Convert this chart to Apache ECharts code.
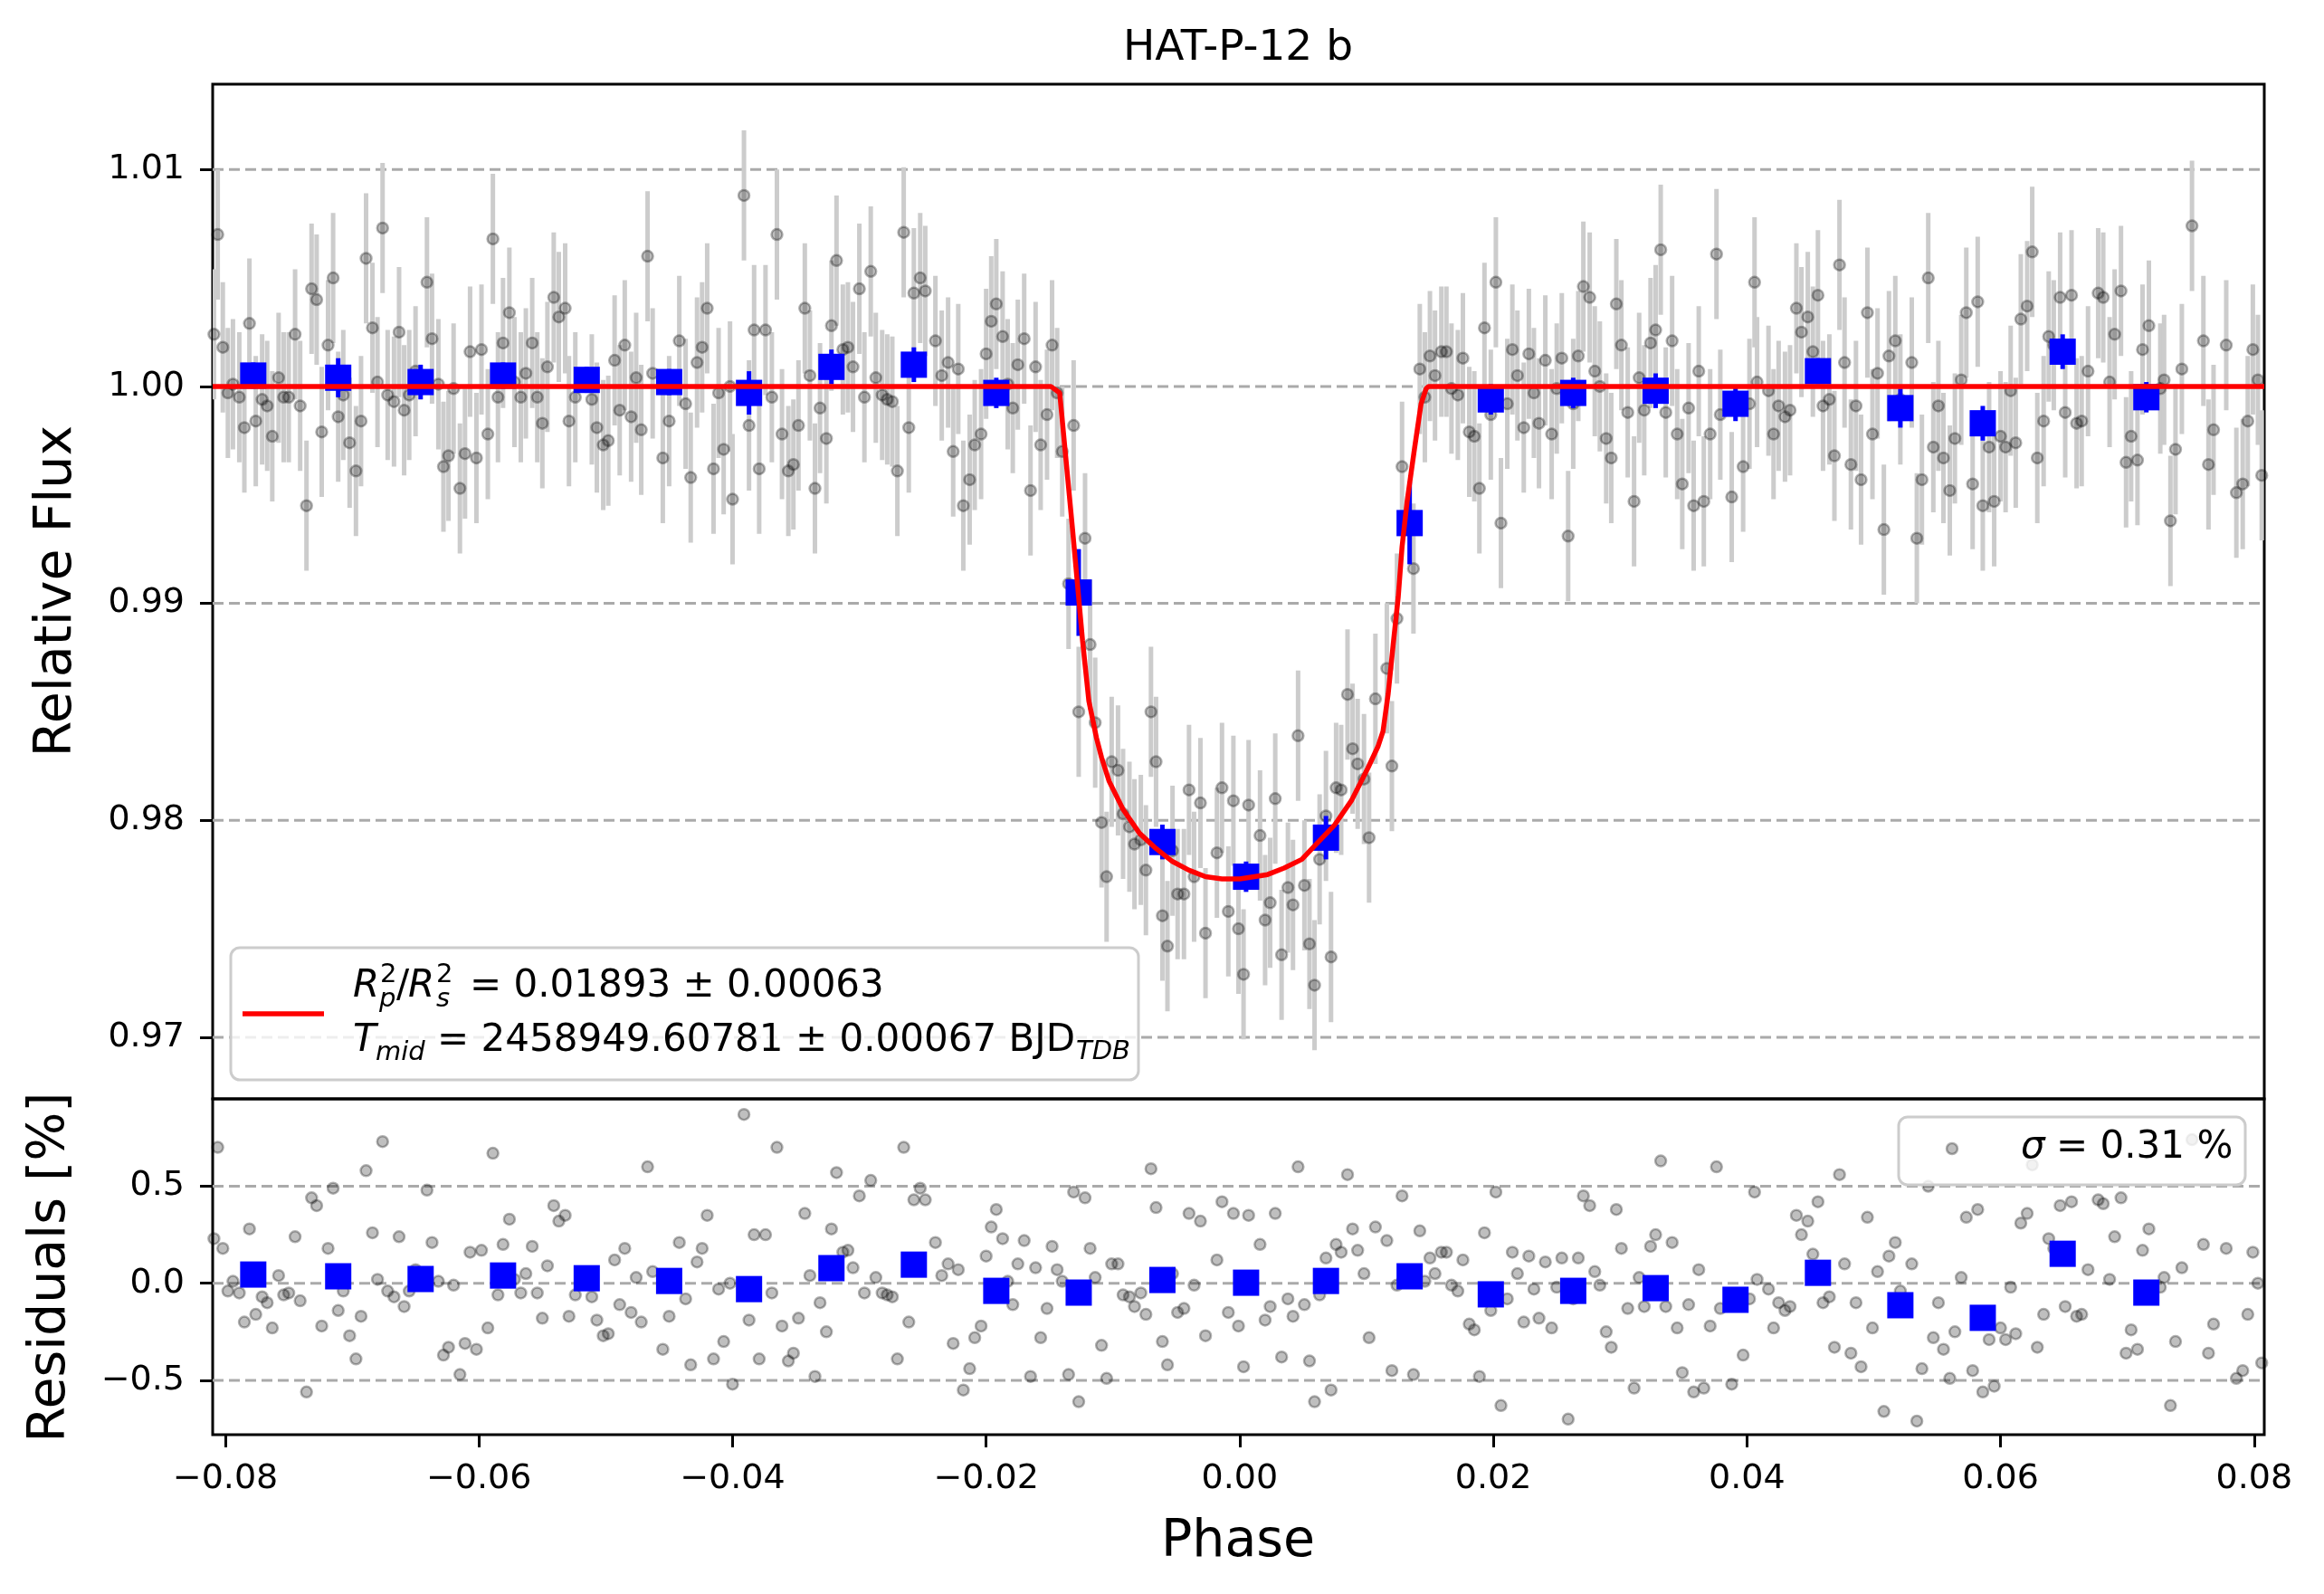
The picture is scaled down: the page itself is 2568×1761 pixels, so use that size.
<!DOCTYPE html>
<html>
<head>
<meta charset="utf-8">
<script src="https://cdn.jsdelivr.net/npm/echarts@6/dist/echarts.min.js"></script>
<style>
  html, body { margin: 0; padding: 0; background: #fff; }
  #main { width: 2568px; height: 1761px; }
</style>
</head>
<body>
<div id="main"></div>
<script>
// ---- data ----
var xMin = -0.081, xMax = 0.0808;
var fluxMin = 0.96716, fluxMax = 1.01393;
var resMin = -0.78, resMax = 0.95;
var xTicks = [-0.08, -0.06, -0.04, -0.02, 0, 0.02, 0.04, 0.06, 0.08];
var fluxTicks = [0.97, 0.98, 0.99, 1.00, 1.01];
var resTicks = [-0.5, 0, 0.5];
var fluxErr = 0.003;

// unbinned points, in four stretches of phase
var phaseA = [
  -0.0809,-0.0806,-0.0802,-0.0798,-0.0794,-0.0789,-0.0785,-0.0781,-0.0776,-0.0771,
  -0.0767,-0.0763,-0.0758,-0.0754,-0.0750,-0.0745,-0.0741,-0.0736,-0.0732,-0.0728,
  -0.0724,-0.0719,-0.0715,-0.0711,-0.0707,-0.0702,-0.0697,-0.0693,-0.0689,-0.0684,
  -0.0680,-0.0676,-0.0672,-0.0667,-0.0663,-0.0659,-0.0655,-0.0650,-0.0641,-0.0637,
  -0.0632,-0.0628,-0.0624,-0.0620,-0.0615,-0.0611,-0.0607,-0.0602,-0.0598,-0.0593,
  -0.0589,-0.0585,-0.0581,-0.0576,-0.0572,-0.0567,-0.0563,-0.0558,-0.0554,-0.0550,
  -0.0546,-0.0541,-0.0537,-0.0532,-0.0529,-0.0524,-0.0511,-0.0507,-0.0502,-0.0498,
  -0.0493,-0.0489,-0.0485,-0.0480,-0.0476,-0.0472,-0.0467,-0.0463,-0.0455,-0.0450,
  -0.0442,-0.0437,-0.0433,-0.0428,-0.0424,-0.0420,-0.0415,-0.0411,-0.0407,-0.0402,
  -0.0400
];
var fluxA = [
  1.0024,1.0070,1.0018,0.9997,1.0001,0.9995,0.9981,1.0029,0.9984,0.9994,
  0.9991,0.9977,1.0004,0.9995,0.9995,1.0024,0.9991,0.9945,1.0045,1.0040,
  0.9979,1.0019,1.0050,0.9986,0.9996,0.9974,0.9961,0.9984,1.0059,1.0027,
  1.0002,1.0073,0.9996,0.9993,1.0025,0.9989,0.9996,1.0007,1.0048,1.0022,
  1.0001,0.9963,0.9968,0.9999,0.9953,0.9969,1.0016,0.9967,1.0017,0.9978,
  1.0068,0.9995,1.0020,1.0034,1.0002,0.9995,1.0006,1.0020,0.9995,0.9983,
  1.0009,1.0041,1.0032,1.0036,0.9984,0.9995,0.9994,0.9981,0.9973,0.9975,
  1.0012,0.9989,1.0019,0.9986,1.0004,0.9980,1.0060,1.0006,0.9967,0.9984,
  1.0021,0.9992,0.9958,1.0011,1.0018,1.0036,0.9962,0.9997,0.9971,1.0000,
  0.9948
];
var residA = [
  0.23,0.70,0.18,-0.04,0.01,-0.05,-0.20,0.28,-0.16,-0.07,
  -0.10,-0.23,0.04,-0.06,-0.05,0.24,-0.09,-0.56,0.44,0.40,
  -0.22,0.18,0.49,-0.14,-0.04,-0.27,-0.39,-0.17,0.58,0.26,
  0.02,0.73,-0.04,-0.07,0.24,-0.12,-0.04,0.07,0.48,0.21,
  0.01,-0.37,-0.33,-0.01,-0.47,-0.31,0.16,-0.34,0.17,-0.23,
  0.67,-0.06,0.20,0.33,0.02,-0.05,0.05,0.19,-0.05,-0.18,
  0.09,0.40,0.32,0.35,-0.17,-0.06,-0.07,-0.19,-0.27,-0.26,
  0.12,-0.11,0.18,-0.15,0.03,-0.20,0.60,0.06,-0.34,-0.17,
  0.21,-0.08,-0.42,0.11,0.18,0.35,-0.39,-0.03,-0.30,0.00,
  -0.52
];

var phaseB = [
  -0.0391,-0.0387,-0.0383,-0.0379,-0.0374,-0.0369,-0.0365,-0.0361,-0.0356,-0.0352,
  -0.0348,-0.0343,-0.0339,-0.0335,-0.0331,-0.0326,-0.0322,-0.0318,-0.0313,-0.0309,
  -0.0305,-0.0300,-0.0296,-0.0291,-0.0287,-0.0282,-0.0278,-0.0274,-0.0270,-0.0265,
  -0.0261,-0.0257,-0.0252,-0.0248,-0.0240,-0.0235,-0.0230,-0.0226,-0.0222,-0.0218,
  -0.0213,-0.0209,-0.0204,-0.0200,-0.0196,-0.0192,-0.0187,-0.0183,-0.0179,-0.0175,
  -0.0170,-0.0165,-0.0161,-0.0157,-0.0152,-0.0148,-0.0144,-0.0140,-0.0135,-0.0131,
  -0.0127,-0.0122,-0.0118,-0.0114,-0.0109,-0.0105,-0.0101,-0.0096,-0.0092,-0.0087,
  -0.0083,-0.0078,-0.0074,-0.0070,-0.0066,-0.0061,-0.0057,-0.0053,-0.0049,-0.0044,
  -0.0040,-0.0036,-0.0031,-0.0027,-0.0018,-0.0014,-0.0009,-0.0005,-0.0001,0.0003
];
var fluxB = [
  1.0088,0.9982,1.0026,0.9962,1.0026,0.9995,1.0070,0.9978,0.9961,0.9964,
  0.9982,1.0036,1.0005,0.9953,0.9990,0.9976,1.0028,1.0058,1.0017,1.0018,
  1.0009,1.0045,0.9995,1.0053,1.0004,0.9996,0.9994,0.9993,0.9961,1.0071,
  0.9981,1.0043,1.0050,1.0044,1.0021,1.0005,1.0011,0.9970,1.0008,0.9945,
  0.9957,0.9973,0.9978,1.0015,1.0030,1.0038,1.0023,1.0001,0.9990,1.0010,
  1.0022,0.9952,1.0009,0.9973,0.9987,1.0019,0.9997,0.9970,0.9909,0.9982,
  0.9850,0.9930,0.9881,0.9845,0.9799,0.9774,0.9827,0.9823,0.9803,0.9797,
  0.9789,0.9791,0.9777,0.9850,0.9827,0.9756,0.9742,0.9786,0.9766,0.9766,
  0.9814,0.9774,0.9808,0.9748,0.9785,0.9815,0.9758,0.9809,0.9750,0.9729
];
var residB = [
  0.87,-0.19,0.25,-0.39,0.25,-0.05,0.70,-0.22,-0.40,-0.36,
  -0.18,0.36,0.04,-0.48,-0.10,-0.25,0.28,0.57,0.16,0.17,
  0.08,0.45,-0.05,0.53,0.03,-0.05,-0.06,-0.07,-0.39,0.70,
  -0.20,0.43,0.49,0.43,0.21,0.04,0.10,-0.31,0.07,-0.55,
  -0.44,-0.28,-0.22,0.14,0.29,0.38,0.23,0.01,-0.11,0.10,
  0.22,-0.48,0.08,-0.28,-0.13,0.19,0.07,0.01,-0.47,0.47,
  -0.61,0.44,0.18,0.03,-0.32,-0.49,0.10,0.10,-0.06,-0.07,
  -0.12,-0.05,-0.16,0.59,0.39,-0.30,-0.42,0.05,-0.15,-0.13,
  0.36,-0.01,0.32,-0.27,0.12,0.42,-0.15,0.36,-0.22,-0.43
];

var phaseC = [
  0.0007,0.0016,0.0020,0.0024,0.0028,0.0033,0.0038,0.0042,0.0046,0.0051,
  0.0055,0.0059,0.0063,0.0068,0.0072,0.0076,0.0080,0.0085,0.0089,0.0093,
  0.0098,0.0102,0.0107,0.0116,0.0120,0.0124,0.0128,0.0137,0.0142,0.0146,
  0.0150,0.0154,0.0159,0.0163,0.0167,0.0172,0.0176,0.0181,0.0185,0.0189,
  0.0193,0.0198,0.0202,0.0206,0.0211,0.0215,0.0219,0.0224,0.0228,0.0232,
  0.0236,0.0241,0.0246,0.0250,0.0254,0.0259,0.0263,0.0267,0.0271,0.0276,
  0.0280,0.0284,0.0289,0.0293,0.0297,0.0301,0.0306,0.0311,0.0315,0.0319,
  0.0324,0.0328,0.0332,0.0336,0.0341,0.0345,0.0349,0.0354,0.0358,0.0362,
  0.0366,0.0371,0.0376,0.0379,0.0388,0.0397,0.0402,0.0406
];
var fluxC = [
  0.9807,0.9793,0.9754,0.9762,0.9810,0.9738,0.9769,0.9761,0.9839,0.9770,
  0.9743,0.9724,0.9782,0.9802,0.9737,0.9815,0.9814,0.9858,0.9833,0.9826,
  0.9819,0.9792,0.9856,0.9870,0.9825,0.9893,0.9963,0.9916,1.0008,0.9995,
  1.0014,1.0005,1.0016,1.0016,0.9999,0.9996,1.0013,0.9979,0.9977,0.9953,
  1.0027,0.9987,1.0048,0.9937,0.9992,1.0017,1.0005,0.9981,1.0015,0.9997,
  0.9983,1.0012,0.9978,0.9999,1.0013,0.9931,0.9992,1.0014,1.0046,1.0041,
  1.0007,1.0000,0.9976,0.9967,1.0038,1.0019,0.9988,0.9947,1.0004,0.9989,
  1.0020,1.0026,1.0063,0.9988,1.0021,0.9978,0.9955,0.9990,0.9945,1.0007,
  0.9947,0.9978,1.0061,0.9987,0.9949,0.9963,0.9992,1.0048
];
var residC = [
  0.35,0.20,-0.19,-0.12,0.36,-0.38,-0.08,-0.17,0.60,-0.11,
  -0.40,-0.61,-0.06,0.13,-0.55,0.20,0.16,0.56,0.28,0.17,
  0.05,-0.28,0.29,0.22,-0.45,-0.01,0.45,-0.47,0.27,0.01,
  0.13,0.05,0.16,0.16,-0.01,-0.04,0.12,-0.21,-0.24,-0.48,
  0.26,-0.14,0.47,-0.63,-0.08,0.16,0.05,-0.20,0.14,-0.03,
  -0.18,0.11,-0.23,-0.02,0.13,-0.70,-0.08,0.13,0.45,0.40,
  0.06,-0.01,-0.25,-0.33,0.38,0.18,-0.13,-0.54,0.03,-0.12,
  0.19,0.25,0.63,-0.12,0.21,-0.23,-0.46,-0.11,-0.56,0.07,
  -0.54,-0.22,0.60,-0.13,-0.52,-0.37,-0.08,0.47
];

var phaseD = [
  0.0408,0.0417,0.0421,0.0425,0.0430,0.0434,0.0439,0.0443,0.0448,0.0452,
  0.0456,0.0460,0.0465,0.0469,0.0473,0.0477,0.0482,0.0486,0.0490,0.0495,
  0.0499,0.0503,0.0508,0.0512,0.0517,0.0521,0.0530,0.0534,0.0538,0.0543,
  0.0547,0.0551,0.0555,0.0560,0.0564,0.0569,0.0573,0.0578,0.0582,0.0586,
  0.0591,0.0595,0.0600,0.0604,0.0608,0.0612,0.0616,0.0621,0.0625,0.0629,
  0.0634,0.0638,0.0642,0.0647,0.0651,0.0656,0.0660,0.0664,0.0669,0.0677,
  0.0681,0.0686,0.0690,0.0695,0.0699,0.0703,0.0708,0.0712,0.0717,0.0726,
  0.0729,0.0734,0.0738,0.0743,0.0751,0.0760,0.0764,0.0768,0.0778,0.0786,
  0.0791,0.0795,0.0799,0.0803,0.0806
];
var fluxD = [
  1.0002,0.9998,0.9978,0.9991,0.9986,0.9989,1.0036,1.0025,1.0032,1.0016,
  1.0042,0.9991,0.9994,0.9968,1.0056,1.0011,0.9964,0.9991,0.9957,1.0034,
  0.9978,1.0006,0.9934,1.0014,1.0021,0.9994,1.0011,0.9930,0.9957,1.0050,
  0.9972,0.9991,0.9967,0.9952,0.9976,1.0003,1.0034,0.9955,1.0039,0.9945,
  0.9972,0.9947,0.9977,0.9972,0.9998,0.9974,1.0031,1.0037,1.0062,0.9967,
  0.9984,1.0023,1.0019,1.0041,0.9988,1.0042,0.9983,0.9984,1.0007,1.0043,
  1.0041,1.0002,1.0024,1.0044,0.9965,0.9977,0.9966,1.0017,1.0028,0.9999,
  1.0003,0.9938,0.9971,1.0008,1.0074,1.0021,0.9964,0.9980,1.0019,0.9951,
  0.9955,0.9984,1.0017,1.0003,0.9959
];
var residD = [
  0.02,-0.03,-0.23,-0.10,-0.14,-0.12,0.35,0.25,0.32,0.15,
  0.42,-0.10,-0.07,-0.33,0.56,0.10,-0.36,-0.10,-0.43,0.34,
  -0.23,0.06,-0.66,0.14,0.21,-0.04,0.10,-0.71,-0.44,0.50,
  -0.28,-0.10,-0.34,-0.49,-0.25,0.03,0.34,-0.45,0.38,-0.56,
  -0.29,-0.53,-0.23,-0.29,-0.02,-0.26,0.31,0.36,0.61,-0.33,
  -0.16,0.23,0.18,0.40,-0.12,0.42,-0.17,-0.16,0.07,0.43,
  0.41,0.02,0.24,0.44,-0.36,-0.24,-0.34,0.17,0.28,-0.02,
  0.03,-0.63,-0.30,0.08,0.74,0.20,-0.36,-0.21,0.18,-0.49,
  -0.45,-0.16,0.16,0.00,-0.41
];

// binned points (blue squares)
var binPhase = [-0.0778,-0.0711,-0.0646,-0.0581,-0.0515,-0.0450,-0.0387,-0.0322,-0.0257,-0.0192,-0.0127,-0.0061,
                0.0005,0.0068,0.0134,0.0198,0.0263,0.0328,0.0391,0.0456,0.0521,0.0586,0.0649,0.0715];
var binFlux  = [1.0005,1.0004,1.0002,1.0005,1.0003,1.0002,0.9997,1.0009,1.0010,0.9997,0.9905,0.9790,
                0.9774,0.9792,0.9937,0.9994,0.9997,0.9998,0.9992,1.0007,0.9990,0.9983,1.0016,0.9995];
var binErr   = [0.0006,0.0009,0.0008,0.0006,0.0006,0.0006,0.0010,0.0008,0.0008,0.0007,0.0020,0.0008,
                0.0007,0.0010,0.0019,0.0007,0.0007,0.0008,0.0008,0.0006,0.0009,0.0008,0.0008,0.0007];
var binResid = [0.045,0.036,0.022,0.040,0.026,0.012,-0.030,0.078,0.096,-0.039,-0.048,0.017,
                0.003,0.012,0.036,-0.057,-0.039,-0.025,-0.085,0.054,-0.113,-0.178,0.152,-0.048];

// transit model (red line)
var modelPhase = [-0.081,-0.0149,-0.0142,-0.0137,-0.0132,-0.0128,-0.0124,-0.0119,-0.0113,-0.0109,-0.0103,
                  -0.0092,-0.0079,-0.0066,-0.0053,-0.0040,-0.0027,-0.0014,0.0000,0.0022,0.0035,0.0049,
                  0.0062,0.0075,0.0088,0.0101,0.0109,0.0113,0.0117,0.0121,0.0125,0.0128,0.0132,0.0138,
                  0.0143,0.0147,0.0149,0.0808];
var modelFlux  = [1.0,1.0,0.9997,0.9966,0.9935,0.9909,0.9883,0.9855,0.9838,0.9829,0.9818,
                  0.9805,0.9794,0.9787,0.9781,0.9777,0.9774,0.9773,0.9773,0.9775,0.9778,0.9782,
                  0.9790,0.9798,0.9809,0.9824,0.9834,0.9841,0.9858,0.9881,0.9903,0.9926,0.9947,0.9972,
                  0.9992,0.9999,1.0,1.0];

var phase = phaseA.concat(phaseB, phaseC, phaseD);
var flux = fluxA.concat(fluxB, fluxC, fluxD);
var resid = residA.concat(residB, residC, residD);

// ---- chart ----
var FONT = "'DejaVu Sans', sans-serif";
var myChart = echarts.init(document.getElementById("main"));

var n = Math.min(phase.length, flux.length, resid.length);
var lcPts = [], lcBars = [], resPts = [];
for (var i = 0; i < n; i++) {
  lcPts.push([phase[i], flux[i]]);
  lcBars.push([phase[i], flux[i] - fluxErr, flux[i] + fluxErr]);
  resPts.push([phase[i], resid[i]]);
}
var binPts = [], binBars = [], binResPts = [];
for (var j = 0; j < binPhase.length; j++) {
  binPts.push([binPhase[j], binFlux[j]]);
  binBars.push([binPhase[j], binFlux[j] - binErr[j], binFlux[j] + binErr[j]]);
  binResPts.push([binPhase[j], binResid[j]]);
}
var modelPts = modelPhase.map(function (p, k) { return [p, modelFlux[k]]; });

function minus(s) { return s.replace("-", "\u2212"); }

function vBar(color, width) {
  return function (params, api) {
    var a = api.coord([api.value(0), api.value(1)]);
    var b = api.coord([api.value(0), api.value(2)]);
    return { type: "line", shape: { x1: a[0], y1: a[1], x2: b[0], y2: b[1] },
             style: { stroke: color, lineWidth: width } };
  };
}
function hGrid(params, api) {
  var a = api.coord([xMin, api.value(1)]);
  var b = api.coord([xMax, api.value(1)]);
  return { type: "line", shape: { x1: a[0], y1: a[1], x2: b[0], y2: b[1] },
           style: { stroke: "#aaaaaa", lineWidth: 3, lineDash: [12, 6] } };
}

var grayItem = { color: "rgba(0,0,0,0.25)", borderColor: "rgba(0,0,0,0.3)", borderWidth: 2.5, opacity: 1 };
var blueItem = { color: "#0000ff", opacity: 1 };
var tickStyle = { show: true, length: 14, lineStyle: { color: "#000", width: 3 } };
var labelStyle = { color: "#000", fontSize: 38, fontFamily: FONT };
var noLine = { show: false, onZero: false };

// text width helper for the legend pieces
var ctx = document.createElement("canvas").getContext("2d");
function textW(str, size, italic) {
  ctx.font = (italic ? "italic " : "") + size + "px 'DejaVu Sans'";
  return ctx.measureText(str).width;
}
function txt(x, y, str, size, opts) {
  opts = opts || {};
  return {
    type: "text", x: x, y: y, z: 100, rotation: opts.rotation || 0,
    style: {
      text: str, fill: "#000", fontSize: size, fontFamily: FONT,
      fontStyle: opts.italic ? "italic" : "normal",
      align: opts.align || "left", verticalAlign: "middle"
    }
  };
}

var line2Main = "= 2458949.60781 \u00b1 0.00067 BJD";
var tdbX = 483 + textW(line2Main, 42, false) + 1;

var option = {
  backgroundColor: "#fff",
  animation: false,
  grid: [
    { left: 235, top: 93, width: 2267, height: 1121, show: true, borderColor: "#000", borderWidth: 3, backgroundColor: "transparent" },
    { left: 235, top: 1214, width: 2267, height: 371, show: true, borderColor: "#000", borderWidth: 3, backgroundColor: "transparent" }
  ],
  xAxis: [
    { gridIndex: 0, type: "value", min: xMin, max: xMax, show: false, axisLine: noLine },
    {
      gridIndex: 1, type: "value", min: xMin, max: xMax, position: "bottom",
      axisLine: noLine,
      axisTick: Object.assign({ customValues: xTicks }, tickStyle),
      axisLabel: Object.assign({
        customValues: xTicks, margin: 30,
        formatter: function (v) { return minus(v.toFixed(2)); }
      }, labelStyle),
      splitLine: { show: false }
    }
  ],
  yAxis: [
    {
      gridIndex: 0, type: "value", min: fluxMin, max: fluxMax, position: "left",
      axisLine: noLine,
      axisTick: Object.assign({ customValues: fluxTicks }, tickStyle),
      axisLabel: Object.assign({
        customValues: fluxTicks, margin: 31,
        formatter: function (v) { return v.toFixed(2); }
      }, labelStyle),
      splitLine: { show: false }
    },
    {
      gridIndex: 1, type: "value", min: resMin, max: resMax, position: "left",
      axisLine: noLine,
      axisTick: Object.assign({ customValues: resTicks }, tickStyle),
      axisLabel: Object.assign({
        customValues: resTicks, margin: 31,
        formatter: function (v) { return minus(v.toFixed(1)); }
      }, labelStyle),
      splitLine: { show: false }
    }
  ],
  series: [
    // top panel
    { type: "custom", xAxisIndex: 0, yAxisIndex: 0, z: 1, silent: true, renderItem: hGrid,
      encode: { x: 0, y: 1 }, data: fluxTicks.map(function (v) { return [xMin, v]; }) },
    { type: "custom", xAxisIndex: 0, yAxisIndex: 0, z: 2, silent: true, clip: true,
      renderItem: vBar("#cccccc", 5), encode: { x: 0, y: [1, 2] }, data: lcBars },
    { type: "scatter", xAxisIndex: 0, yAxisIndex: 0, z: 3, silent: true,
      symbol: "circle", symbolSize: 12, itemStyle: grayItem, data: lcPts },
    { type: "custom", xAxisIndex: 0, yAxisIndex: 0, z: 4, silent: true,
      renderItem: vBar("#0000ff", 5), encode: { x: 0, y: [1, 2] }, data: binBars },
    { type: "scatter", xAxisIndex: 0, yAxisIndex: 0, z: 5, silent: true,
      symbol: "rect", symbolSize: 29, itemStyle: blueItem, data: binPts },
    { type: "line", xAxisIndex: 0, yAxisIndex: 0, z: 6, silent: true,
      symbol: "none", showSymbol: false, lineStyle: { color: "#ff0000", width: 5.5, opacity: 1 }, data: modelPts },
    // residual panel
    { type: "custom", xAxisIndex: 1, yAxisIndex: 1, z: 1, silent: true, renderItem: hGrid,
      encode: { x: 0, y: 1 }, data: resTicks.map(function (v) { return [xMin, v]; }) },
    { type: "scatter", xAxisIndex: 1, yAxisIndex: 1, z: 3, silent: true,
      symbol: "circle", symbolSize: 12, itemStyle: grayItem, data: resPts },
    { type: "scatter", xAxisIndex: 1, yAxisIndex: 1, z: 5, silent: true,
      symbol: "rect", symbolSize: 29, itemStyle: blueItem, data: binResPts }
  ],
  graphic: [
    txt(1368, 54, "HAT-P-12 b", 47, { align: "center" }),
    txt(1368, 1704, "Phase", 57, { align: "center" }),
    txt(63, 653, "Relative Flux", 57, { align: "center", rotation: Math.PI / 2 }),
    txt(56, 1400, "Residuals [%]", 57, { align: "center", rotation: Math.PI / 2 }),

    // fit legend
    { type: "rect", z: 99, shape: { x: 255, y: 1047, width: 1003, height: 146, r: 10 },
      style: { fill: "rgba(255,255,255,0.8)", stroke: "#cccccc", lineWidth: 3 } },
    { type: "line", z: 100, shape: { x1: 268, y1: 1120, x2: 358, y2: 1120 },
      style: { stroke: "#ff0000", lineWidth: 5.5 } },
    txt(390, 1090, "R", 42, { italic: true }),
    txt(420, 1077, "2", 29),
    txt(419, 1104, "p", 29, { italic: true }),
    txt(438, 1090, "/", 42),
    txt(451, 1090, "R", 42, { italic: true }),
    txt(482, 1077, "2", 29),
    txt(482, 1104, "s", 29, { italic: true }),
    txt(519, 1090, "= 0.01893 \u00b1 0.00063", 42),
    txt(390, 1150, "T", 42, { italic: true }),
    txt(415, 1163, "mid", 29, { italic: true }),
    txt(483, 1150, line2Main, 42),
    txt(tdbX, 1162, "TDB", 29, { italic: true }),

    // sigma legend
    { type: "rect", z: 99, shape: { x: 2098, y: 1234, width: 383, height: 75, r: 10 },
      style: { fill: "rgba(255,255,255,0.8)", stroke: "#cccccc", lineWidth: 3 } },
    { type: "circle", z: 100, shape: { cx: 2157, cy: 1269, r: 6 },
      style: { fill: "rgba(0,0,0,0.25)", stroke: "rgba(0,0,0,0.3)", lineWidth: 2.5 } },
    txt(2233, 1268, "\u03c3", 42, { italic: true }),
    txt(2272, 1268, "= 0.31 %", 42)
  ]
};

myChart.setOption(option);
</script>
</body>
</html>
